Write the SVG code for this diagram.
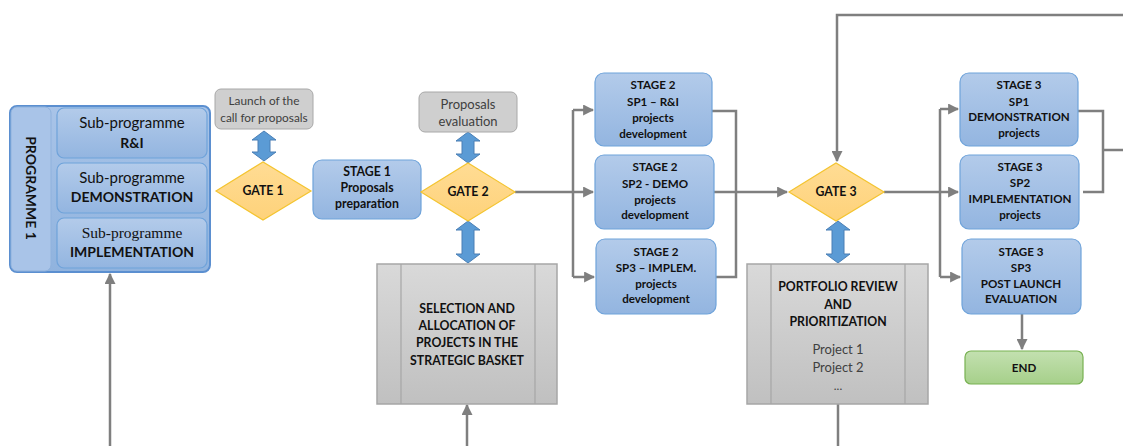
<svg xmlns="http://www.w3.org/2000/svg" width="1123" height="446" viewBox="0 0 1123 446">
  <defs>
    <linearGradient id="gBlue" x1="0" y1="0" x2="0" y2="1">
      <stop offset="0" stop-color="#b3cbea"/>
      <stop offset="1" stop-color="#93b5e0"/>
    </linearGradient>
    <linearGradient id="gProg" x1="0" y1="0" x2="0" y2="1">
      <stop offset="0" stop-color="#a9c4e8"/>
      <stop offset="1" stop-color="#90b3de"/>
    </linearGradient>
    <linearGradient id="gGate" x1="0" y1="0" x2="0" y2="1">
      <stop offset="0" stop-color="#ffdc94"/>
      <stop offset="1" stop-color="#fed27a"/>
    </linearGradient>
    <linearGradient id="gGray" x1="0" y1="0" x2="0" y2="1">
      <stop offset="0" stop-color="#d9d9d9"/>
      <stop offset="1" stop-color="#c0c0c0"/>
    </linearGradient>
    <linearGradient id="gGreen" x1="0" y1="0" x2="0" y2="1">
      <stop offset="0" stop-color="#c3e0b0"/>
      <stop offset="1" stop-color="#a6d08a"/>
    </linearGradient>
    <marker id="arr" viewBox="0 0 10 10" refX="9" refY="5" markerWidth="4.4" markerHeight="4.4" orient="auto" markerUnits="strokeWidth">
      <path d="M0,0 L10,5 L0,10 Z" fill="#7f7f7f"/>
    </marker>
  </defs>
  <style>
    .blue { fill: url(#gBlue); stroke: #6fa3da; stroke-width: 1.2; }
    .gate { fill: url(#gGate); stroke: #f4c430; stroke-width: 1.2; }
    .gray { fill: url(#gGray); stroke: #a6a6a6; stroke-width: 1.5; }
    .note { fill: #cfcfcf; stroke: #a8a8a8; stroke-width: 1; }
    .green { fill: url(#gGreen); stroke: #78b152; stroke-width: 1.2; }
    .dbl { fill: #5b9bd5; stroke: #4a7fb5; stroke-width: 1; }
    .line { fill: none; stroke: #7f7f7f; stroke-width: 2.5; }
    text { font-family: Lato, "Open Sans", "Liberation Sans", sans-serif; text-anchor: middle; fill: #111; }
    .b11 { font-size: 11.6px; font-weight: bold; }
    .b12 { font-size: 12.3px; font-weight: bold; }
    .b14 { font-size: 14px; font-weight: bold; }
    .r14 { font-size: 15px; }
    .n11 { font-size: 11.8px; fill: #404040; }
    .n12 { font-size: 13px; fill: #404040; }
  </style>

  <!-- connectors -->
  <g id="connectors">
    <path class="line" d="M110,446 V274" marker-end="url(#arr)"/>
    <path class="line" d="M467,446 V405" marker-end="url(#arr)"/>
    <path class="line" d="M838,404 V446"/>
    <path class="line" d="M515,192 H593" marker-end="url(#arr)"/>
    <path class="line" d="M573,110 V277"/>
    <path class="line" d="M573,110 H593" marker-end="url(#arr)"/>
    <path class="line" d="M573,277 H594" marker-end="url(#arr)"/>
    <path class="line" d="M712,111 H736 V277 H716"/>
    <path class="line" d="M714,192 H787" marker-end="url(#arr)"/>
    <path class="line" d="M1123,15 H837 V161" marker-end="url(#arr)"/>
    <path class="line" d="M884,192 H958" marker-end="url(#arr)"/>
    <path class="line" d="M940,109 V277"/>
    <path class="line" d="M940,109 H958" marker-end="url(#arr)"/>
    <path class="line" d="M940,277 H960" marker-end="url(#arr)"/>
    <path class="line" d="M1078,111 H1103 V192 H1083"/>
    <path class="line" d="M1103,150 H1123"/>
    <path class="line" d="M1022,314 V349" marker-end="url(#arr)"/>
  </g>

  <!-- double arrows between gates and side boxes -->
  <g id="links">
    <path class="dbl" d="M264,131 L276,140 L270,140 L270,152 L276,152 L264,161 L252,152 L258,152 L258,140 L252,140 Z"/>
    <path class="dbl" d="M468,132 L480,141 L474,141 L474,154 L480,154 L468,163 L456,154 L462,154 L462,141 L456,141 Z"/>
    <path class="dbl" d="M468,221 L480,230 L474,230 L474,254 L480,254 L468,263 L456,254 L462,254 L462,230 L456,230 Z"/>
    <path class="dbl" d="M838,221 L850,230 L844,230 L844,254 L850,254 L838,263 L826,254 L832,254 L832,230 L826,230 Z"/>
  </g>

  <!-- programme 1 -->
  <g id="programme1">
    <rect x="10" y="106" width="200" height="166" rx="7" fill="url(#gProg)" stroke="#5b8fd0" stroke-width="2"/>
    <rect x="11" y="107" width="40" height="164" rx="6" fill="#a9c4e8" stroke="#8fb2dd" stroke-width="1"/>
    <text class="b14" transform="translate(26,188) rotate(90)">PROGRAMME 1</text>
  </g>
  <g id="sp-ri">
    <rect class="blue" x="57" y="108" width="150" height="50" rx="7"/>
    <text class="r14" x="132" y="128">Sub-programme</text>
    <text class="b14" x="132" y="148">R&amp;I</text>
  </g>
  <g id="sp-demo">
    <rect class="blue" x="57" y="163" width="150" height="50" rx="7"/>
    <text class="r14" x="132" y="183">Sub-programme</text>
    <text class="b14" x="132" y="202">DEMONSTRATION</text>
  </g>
  <g id="sp-impl">
    <rect class="blue" x="57" y="218" width="150" height="50" rx="7"/>
    <text x="132" y="238" style="font-family:'Liberation Serif',serif;font-size:15.5px">Sub-programme</text>
    <text class="b14" x="132" y="257">IMPLEMENTATION</text>
  </g>

  <!-- gate 1 and call launch -->
  <g id="launch">
    <rect class="note" x="215" y="89" width="98" height="40" rx="6"/>
    <text class="n11" x="264" y="105">Launch of the</text>
    <text class="n11" x="264" y="122">call for proposals</text>
  </g>
  <g id="gate1">
    <polygon class="gate" points="216,191 263,162 311,191 263,220"/>
    <text class="b12" x="263" y="195">GATE 1</text>
  </g>

  <!-- stage 1 -->
  <g id="stage1">
    <rect class="blue" x="313" y="160" width="108" height="59" rx="9"/>
    <text class="b12" x="367" y="176">STAGE 1</text>
    <text class="b12" x="367" y="192">Proposals</text>
    <text class="b12" x="367" y="208">preparation</text>
  </g>

  <!-- gate 2 -->
  <g id="evaluation">
    <rect class="note" x="419" y="92" width="98" height="40" rx="6"/>
    <text class="n12" x="468" y="109">Proposals</text>
    <text class="n12" x="468" y="126">evaluation</text>
  </g>
  <g id="gate2">
    <polygon class="gate" points="421,192 468,163 515,192 468,221"/>
    <text class="b12" x="468" y="196">GATE 2</text>
  </g>
  <g id="selection">
    <rect class="gray" x="377" y="264" width="180" height="140"/>
    <line x1="401" y1="264" x2="401" y2="404" stroke="#a6a6a6" stroke-width="1.2"/>
    <line x1="535" y1="264" x2="535" y2="404" stroke="#a6a6a6" stroke-width="1.2"/>
    <text class="b12" x="467" y="313">SELECTION AND</text>
    <text class="b12" x="467" y="330">ALLOCATION OF</text>
    <text class="b12" x="467" y="347">PROJECTS IN THE</text>
    <text class="b12" x="467" y="365">STRATEGIC BASKET</text>
  </g>

  <!-- stage 2 -->
  <g id="stage2-sp1">
    <rect class="blue" x="595" y="73" width="117" height="73" rx="9"/>
    <text class="b11" x="653" y="89">STAGE 2</text>
    <text class="b11" x="653" y="106">SP1 – R&amp;I</text>
    <text class="b11" x="653" y="122">projects</text>
    <text class="b11" x="653" y="138">development</text>
  </g>
  <g id="stage2-sp2">
    <rect class="blue" x="595" y="155" width="119" height="74" rx="9"/>
    <text class="b11" x="655" y="171">STAGE 2</text>
    <text class="b11" x="655" y="188">SP2 - DEMO</text>
    <text class="b11" x="655" y="204">projects</text>
    <text class="b11" x="655" y="219">development</text>
  </g>
  <g id="stage2-sp3">
    <rect class="blue" x="596" y="239" width="120" height="75" rx="9"/>
    <text class="b11" x="656" y="256">STAGE 2</text>
    <text class="b11" x="656" y="272">SP3 – IMPLEM.</text>
    <text class="b11" x="656" y="288">projects</text>
    <text class="b11" x="656" y="303">development</text>
  </g>

  <!-- gate 3 -->
  <g id="gate3">
    <polygon class="gate" points="789,192 836,163 884,192 836,221"/>
    <text class="b12" x="836" y="196">GATE 3</text>
  </g>
  <g id="portfolio">
    <rect class="gray" x="747" y="264" width="181" height="140"/>
    <line x1="771" y1="264" x2="771" y2="404" stroke="#a6a6a6" stroke-width="1.2"/>
    <line x1="905" y1="264" x2="905" y2="404" stroke="#a6a6a6" stroke-width="1.2"/>
    <text class="b12" x="838" y="291">PORTFOLIO REVIEW</text>
    <text class="b12" x="838" y="309">AND</text>
    <text class="b12" x="838" y="326">PRIORITIZATION</text>
    <text class="n12" x="838" y="354">Project 1</text>
    <text class="n12" x="838" y="372">Project 2</text>
    <text class="n11" x="838" y="390">...</text>
  </g>

  <!-- stage 3 -->
  <g id="stage3-sp1">
    <rect class="blue" x="960" y="73" width="118" height="73" rx="9"/>
    <text class="b11" x="1019" y="89">STAGE 3</text>
    <text class="b11" x="1019" y="106">SP1</text>
    <text class="b11" x="1019" y="121">DEMONSTRATION</text>
    <text class="b11" x="1019" y="137">projects</text>
  </g>
  <g id="stage3-sp2">
    <rect class="blue" x="960" y="155" width="119" height="74" rx="9"/>
    <text class="b11" x="1020" y="171">STAGE 3</text>
    <text class="b11" x="1020" y="187">SP2</text>
    <text class="b11" x="1020" y="203">IMPLEMENTATION</text>
    <text class="b11" x="1020" y="219">projects</text>
  </g>
  <g id="stage3-sp3">
    <rect class="blue" x="962" y="239" width="119" height="75" rx="9"/>
    <text class="b11" x="1021" y="256">STAGE 3</text>
    <text class="b11" x="1021" y="272">SP3</text>
    <text class="b11" x="1021" y="288">POST LAUNCH</text>
    <text class="b11" x="1021" y="303">EVALUATION</text>
  </g>
  <g id="end">
    <rect class="green" x="965" y="351" width="118" height="33" rx="6"/>
    <text class="b11" x="1024" y="372">END</text>
  </g>
</svg>
